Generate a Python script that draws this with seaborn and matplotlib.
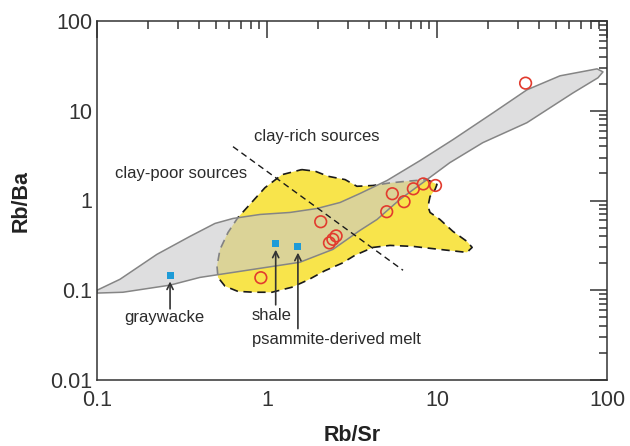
import numpy as np
import pandas as pd
import matplotlib
matplotlib.use("Agg")
import matplotlib.pyplot as plt
from matplotlib.ticker import LogLocator, FuncFormatter, NullFormatter
import seaborn as sns

# ---- data -------------------------------------------------------------
# analysed samples (Rb/Sr, Rb/Ba)
sample_rb_sr = [0.92, 2.07, 2.33, 2.44, 2.55, 5.06, 5.46, 6.4, 7.26, 8.3, 9.8, 33.2]
sample_rb_ba = [0.138, 0.58, 0.337, 0.369, 0.403, 0.75, 1.19, 0.97, 1.35, 1.53, 1.47, 20.3]

# reference source compositions
ref_names = ["graywacke", "shale", "psammite-derived melt"]
ref_rb_sr = [0.269, 1.125, 1.52]
ref_rb_ba = [0.146, 0.33, 0.306]

# envelope of the grey (pelite-derived) field
grey_rb_sr = [0.100, 0.1365, 0.225, 0.352, 0.494, 0.631, 0.91, 1.366, 1.97, 2.69,
              3.52, 5.08, 7.94, 12.4, 21.4, 33.8, 52.9, 87.4, 94.7,
              88.5, 63.1, 33.8, 18.6, 11.9, 8.73, 6.06, 4.44, 3.52, 2.44,
              1.56, 0.631, 0.403, 0.269, 0.142, 0.100]
grey_rb_ba = [0.100, 0.1325, 0.251, 0.398, 0.555, 0.631, 0.699, 0.736, 0.815, 0.95,
              1.196, 1.67, 2.78, 4.76, 9.5, 17.1, 24.5, 29.3, 27.1,
              23.3, 15.8, 7.36, 4.41, 2.64, 1.71, 1.03, 0.615, 0.464, 0.285,
              0.205, 0.158, 0.139, 0.114, 0.095, 0.093]

# envelope of the yellow field (samples)
yellow_rb_sr = [1.6, 1.92, 2.29, 2.88, 3.38, 4.2, 5.29, 6.66, 8.73, 10.0, 9.73, 9.1,
                8.85, 9.1, 10.4, 12.4, 15.0, 16.1, 15.0, 10.4, 7.22, 5.29, 4.2,
                3.29, 2.76, 2.19, 1.74, 1.4, 1.07, 0.85, 0.675, 0.566, 0.515,
                0.508, 0.529, 0.59, 0.675, 0.773, 0.973, 1.225]
yellow_rb_ba = [2.21, 2.12, 1.86, 1.71, 1.44, 1.47, 1.57, 1.64, 1.71, 1.51, 1.32, 1.11,
                0.858, 0.736, 0.615, 0.453, 0.35, 0.3, 0.264, 0.285, 0.308, 0.316, 0.3,
                0.245, 0.2, 0.165, 0.13, 0.108, 0.095, 0.095, 0.097, 0.111, 0.139,
                0.185, 0.285, 0.441, 0.647, 0.858, 1.39, 1.94]

# clay-rich / clay-poor divide
divide_rb_sr = [0.631, 6.31]
divide_rb_ba = [3.98, 0.167]

samples = pd.DataFrame({"Rb/Sr": sample_rb_sr, "Rb/Ba": sample_rb_ba})
refs = pd.DataFrame({"name": ref_names, "Rb/Sr": ref_rb_sr, "Rb/Ba": ref_rb_ba})

# ---- style ------------------------------------------------------------
sns.set_style("white")
plt.rcParams["font.family"] = ["Liberation Sans", "DejaVu Sans"]
plt.rcParams["lines.scale_dashes"] = False

ink = "#2b2b2b"
fig = plt.figure(figsize=(6.3, 4.46), dpi=100)
ax = fig.add_axes([97 / 630, 1 - 380 / 446, 510 / 630, 359 / 446])
ax.set_xscale("log")
ax.set_yscale("log")
ax.set_xlim(0.1, 100)
ax.set_ylim(0.01, 100)

# fields
ax.fill(yellow_rb_sr, yellow_rb_ba, facecolor="#F8E44B", edgecolor="none", zorder=1)
ax.plot(yellow_rb_sr + yellow_rb_sr[:1], yellow_rb_ba + yellow_rb_ba[:1],
        color="#1a1a1a", lw=1.2, ls=(0, (6, 4)), zorder=1.2)
ax.fill(grey_rb_sr, grey_rb_ba, facecolor="#c8c8ca", alpha=0.6, edgecolor="none", zorder=2)
ax.plot(grey_rb_sr + grey_rb_sr[:1], grey_rb_ba + grey_rb_ba[:1],
        color="#858585", lw=1.1, zorder=2.2)

# divide between source types
ax.plot(divide_rb_sr, divide_rb_ba, color="#1a1a1a", lw=1.0, ls=(0, (4.5, 3)), zorder=3)
ax.text(0.839, 4.64, "clay-rich sources", fontsize=12, color=ink, ha="left", va="baseline")
ax.text(0.1276, 1.76, "clay-poor sources", fontsize=12, color=ink, ha="left", va="baseline")

# points
sns.scatterplot(data=samples, x="Rb/Sr", y="Rb/Ba", ax=ax, marker="o", s=70,
                facecolor="none", edgecolor="#E23B2E", linewidth=1.2, zorder=5)
sns.scatterplot(data=refs, x="Rb/Sr", y="Rb/Ba", ax=ax, marker="s", s=26,
                color="#1E9BD7", edgecolor="none", linewidth=0, zorder=5)

# reference labels with arrows
arrow_len = [24, 44, 59]
label_pos = [(0.249, 0.0441, "center"), (1.07, 0.0464, "center"), (0.816, 0.0251, "left")]
for name, x, y, L, (tx, ty, ha) in zip(ref_names, ref_rb_sr, ref_rb_ba, arrow_len, label_pos):
    ax.annotate("", xy=(x, y), xytext=(0, -L), textcoords="offset points",
                arrowprops=dict(arrowstyle="->", color="#333333", lw=1.2,
                                shrinkA=0, shrinkB=4.3, mutation_scale=11), zorder=4)
    ax.text(tx, ty, name, fontsize=12, color=ink, ha=ha, va="baseline")

# axes cosmetics
ax.xaxis.set_major_locator(LogLocator(base=10))
ax.yaxis.set_major_locator(LogLocator(base=10))
ax.xaxis.set_minor_locator(LogLocator(base=10, subs=np.arange(2, 10)))
ax.yaxis.set_minor_locator(LogLocator(base=10, subs=np.arange(2, 10)))
fmt = FuncFormatter(lambda v, p: f"{v:g}")
ax.xaxis.set_major_formatter(fmt)
ax.yaxis.set_major_formatter(fmt)
ax.xaxis.set_minor_formatter(NullFormatter())
ax.yaxis.set_minor_formatter(NullFormatter())
ax.tick_params(which="both", direction="in", top=True, right=True, color="#333333",
               width=1.1, labelsize=15.5, labelcolor="#333333")
ax.tick_params(which="major", length=12)
ax.tick_params(which="minor", length=5.8)
ax.tick_params(axis="x", which="major", pad=7.5)
ax.tick_params(axis="y", which="major", pad=3.5)
for s in ax.spines.values():
    s.set_color("#333333")
    s.set_linewidth(1.1)

ax.set_xlabel("Rb/Sr", fontsize=15.5, fontweight="bold", color="#222222", labelpad=10)
ax.set_ylabel("Rb/Ba", fontsize=15.5, fontweight="bold", color="#222222", labelpad=13)

fig.savefig("out.png", dpi=100)
